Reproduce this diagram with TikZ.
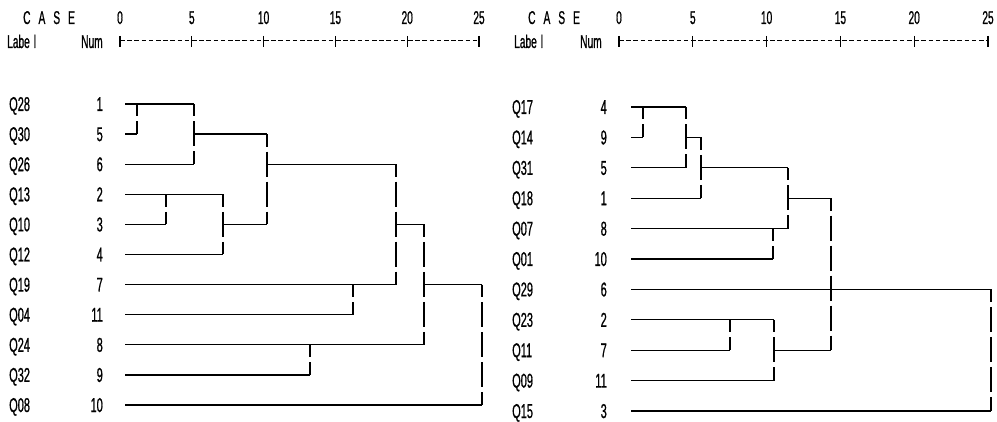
\documentclass[tikz,border=0pt]{standalone}
\usepackage{fontspec}
\newfontfamily\dfont{Liberation Sans}[FakeStretch=0.55, FakeBold=0.8]
\begin{document}
\def\LY#1{{104+30.1*#1}}
\def\RY#1{{107+30.4*#1}}
\begin{tikzpicture}[x=1pt,y=-1pt,
  lab/.style={inner sep=0pt, anchor=base west, font=\dfont\fontsize{20}{20}\selectfont},
  num/.style={inner sep=0pt, anchor=base east, font=\dfont\fontsize{20}{20}\selectfont},
  hdr/.style={inner sep=0pt, anchor=base west, font=\dfont\fontsize{18.5}{18.5}\selectfont},
  scl/.style={inner sep=0pt, anchor=base, font=\dfont\fontsize{18.5}{18.5}\selectfont},
  hl/.style={line width=1.3pt},
  vl/.style={line width=1.3pt, dash pattern=on 25pt off 5pt, dash phase=12.5pt},
  axis/.style={line width=1pt, dash pattern=on 4.5pt off 2.7pt},
  tick/.style={line width=1.1pt}]
\useasboundingbox (0,0) rectangle (997,422);
% ---------- headers ----------
\node[hdr] (caseL) at (23,24) {C\hspace{8pt}A\hspace{8pt}S\hspace{8pt}E};
\node[hdr] (labelL) at (7,48) {Labe\hspace{4pt}l};
\node[hdr] (numL) at (81,48) {Num};
\node[hdr] (caseR) at (528,24) {C\hspace{8pt}A\hspace{8pt}S\hspace{8pt}E};
\node[hdr] (labelR) at (514,48) {Labe\hspace{4pt}l};
\node[hdr] (numR) at (580,48) {Num};
% ---------- scales ----------
\foreach \k in {0,...,5}{
  \pgfmathsetmacro\v{int(5*\k)}
  \node[scl] (sL\k) at ({120+71.8*\k},24) {\v};
  \node[scl] (sR\k) at ({619+73.8*\k},24) {\v};
  \draw[tick] ({120+71.8*\k},36) -- ({120+71.8*\k},47);
  \draw[tick] ({619+73.8*\k},36) -- ({619+73.8*\k},47);
}
\draw[axis] (120,41) -- (479,41);
\draw[axis] (619,41) -- (988,41);
% ---------- left labels ----------
\foreach \l/\n [count=\i from 0] in {Q28/1,Q30/5,Q26/6,Q13/2,Q10/3,Q12/4,Q19/7,Q04/11,Q24/8,Q32/9,Q08/10}{
  \node[lab] (lL\i) at (9,{104+30.1*\i+7}) {\l};
  \node[num] (nL\i) at (103,{104+30.1*\i+7}) {\n};
}
% ---------- right labels ----------
\foreach \l/\n [count=\i from 0] in {Q17/4,Q14/9,Q31/5,Q18/1,Q07/8,Q01/10,Q29/6,Q23/2,Q11/7,Q09/11,Q15/3}{
  \node[lab] (lR\i) at (512,{107+30.4*\i+7}) {\l};
  \node[num] (nR\i) at (607,{107+30.4*\i+7}) {\n};
}
% ---------- left dendrogram ----------
\draw[hl] (125,\LY0) -- (194,\LY0);
\draw[hl] (125,\LY1) -- (137,\LY1);
\draw[vl] (137,\LY0) -- (137,\LY1);
\draw[vl] (194,\LY0) -- (194,\LY2);
\draw[hl] (125,\LY2) -- (194,\LY2);
\draw[hl] (194,\LY1) -- (267,\LY1);
\draw[vl] (267,\LY1) -- (267,\LY4);
\draw[hl] (125,\LY3) -- (223,\LY3);
\draw[hl] (125,\LY4) -- (166,\LY4);
\draw[vl] (166,\LY3) -- (166,\LY4);
\draw[vl] (223,\LY3) -- (223,\LY5);
\draw[hl] (125,\LY5) -- (223,\LY5);
\draw[hl] (223,\LY4) -- (267,\LY4);
\draw[hl] (267,\LY2) -- (396,\LY2);
\draw[vl] (396,\LY2) -- (396,\LY6);
\draw[hl] (125,\LY6) -- (396,\LY6);
\draw[hl] (125,\LY7) -- (353,\LY7);
\draw[vl] (353,\LY6) -- (353,\LY7);
\draw[hl] (396,\LY4) -- (424,\LY4);
\draw[vl] (424,\LY4) -- (424,\LY8);
\draw[hl] (125,\LY8) -- (424,\LY8);
\draw[hl] (125,\LY9) -- (310,\LY9);
\draw[vl] (310,\LY8) -- (310,\LY9);
\draw[hl] (424,\LY6) -- (482,\LY6);
\draw[vl] (482,\LY6) -- (482,\LY{10});
\draw[hl] (125,\LY{10}) -- (482,\LY{10});
% ---------- right dendrogram ----------
\draw[hl] (631,\RY0) -- (686,\RY0);
\draw[hl] (631,\RY1) -- (643,\RY1);
\draw[vl] (643,\RY0) -- (643,\RY1);
\draw[vl] (686,\RY0) -- (686,\RY2);
\draw[hl] (631,\RY2) -- (686,\RY2);
\draw[hl] (686,\RY1) -- (701,\RY1);
\draw[vl] (701,\RY1) -- (701,\RY3);
\draw[hl] (631,\RY3) -- (701,\RY3);
\draw[hl] (701,\RY2) -- (788,\RY2);
\draw[vl] (788,\RY2) -- (788,\RY4);
\draw[hl] (631,\RY4) -- (788,\RY4);
\draw[hl] (631,\RY5) -- (773,\RY5);
\draw[vl] (773,\RY4) -- (773,\RY5);
\draw[hl] (788,\RY3) -- (831,\RY3);
\draw[vl] (831,\RY3) -- (831,\RY8);
\draw[hl] (631,\RY7) -- (774,\RY7);
\draw[hl] (631,\RY8) -- (730,\RY8);
\draw[vl] (730,\RY7) -- (730,\RY8);
\draw[vl] (774,\RY7) -- (774,\RY9);
\draw[hl] (631,\RY9) -- (774,\RY9);
\draw[hl] (774,\RY8) -- (831,\RY8);
\draw[hl] (631,\RY6) -- (991,\RY6);
\draw[vl] (991,\RY6) -- (991,\RY{10});
\draw[hl] (631,\RY{10}) -- (991,\RY{10});
\end{tikzpicture}
\end{document}
